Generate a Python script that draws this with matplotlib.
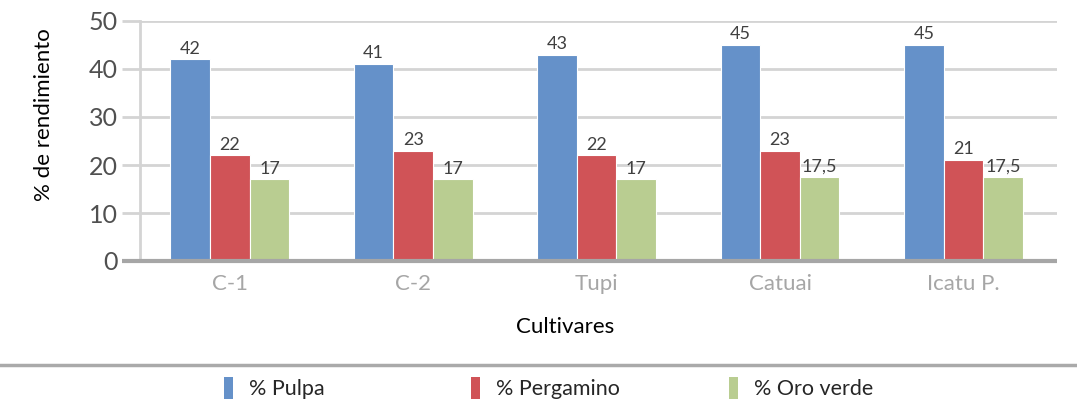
import matplotlib.pyplot as plt
from matplotlib.patches import Patch
from matplotlib.lines import Line2D
import numpy as np

# Rendimiento por cultivar (%)
cultivares = ["C-1", "C-2", "Tupi", "Catuai", "Icatu P."]
pulpa = [42, 41, 43, 45, 45]
pergamino = [22, 23, 22, 23, 21]
oro_verde = [17, 17, 17, 17.5, 17.5]

series = [("% Pulpa", pulpa, "#6591C9"),
          ("% Pergamino", pergamino, "#D05357"),
          ("% Oro verde", oro_verde, "#B9CD91")]

plt.rcParams['font.family'] = ['Lato', 'DejaVu Sans']

fig = plt.figure(figsize=(10.77, 4.05), dpi=100)
ax = fig.add_axes([140 / 1077, 1 - 261 / 405, 917 / 1077, 240 / 405])

x = np.arange(len(cultivares))
BarWidth = 0.216

for i, (name, values, color) in enumerate(series):
    pos = x + (i - 1) * BarWidth
    ax.bar(pos, values, BarWidth, color=color, edgecolor="white", linewidth=0.8, zorder=3)
    for px, v in zip(pos, values):
        txt = ("%g" % v).replace(".", ",")
        ax.annotate(txt, (px, v), xytext=(0, 2), textcoords="offset points",
                    ha="center", va="bottom", fontsize=13,
                    color="#404040", zorder=4)

ax.set_xlim(-0.49, len(cultivares) - 0.49)
ax.set_ylim(0, 50)
ax.set_yticks(range(0, 51, 10))
ax.set_xticks(x)
ax.set_xticklabels(cultivares, fontsize=16, color="#a6a6a6")
ax.tick_params(axis="x", length=0, pad=9)
ax.tick_params(axis="y", length=13, width=2, color="#d4d4d4", labelsize=18,
               labelcolor="#505050", pad=3)

ax.grid(axis="y", color="#d4d4d4", linewidth=2, zorder=0)
for side in ["top", "right", "bottom"]:
    ax.spines[side].set_visible(False)
ax.spines["left"].set_color("#d4d4d4")
ax.spines["left"].set_linewidth(2)

# base line runs out under the tick marks
ax.plot([-18 / 917, 1], [0, 0], transform=ax.transAxes, color="#a6a6a6",
        linewidth=3, clip_on=False, zorder=5, solid_capstyle="butt")

ax.set_ylabel("% de rendimiento", fontsize=16, color="black")
ax.yaxis.set_label_coords(-86 / 917, 0.61)
fig.text(565 / 1077, 1 - 327 / 405, "Cultivares", fontsize=16, ha="center", va="center")

# separator above the legend
fig.add_artist(Line2D([0, 1], [1 - 365 / 405] * 2, color="#aaaaaa", linewidth=2.5))

LegendX = [213, 460, 718]
for lx, (name, values, color) in zip(LegendX, series):
    fig.legend(handles=[Patch(facecolor=color, label=name)], loc="center left",
               bbox_to_anchor=(lx / 1077, 1 - 388 / 405), frameon=False,
               fontsize=15.5, handlelength=0.45, handleheight=1.2, handletextpad=0.7,
               borderpad=0, labelcolor="#262626")

fig.savefig("out.png", dpi=100)
